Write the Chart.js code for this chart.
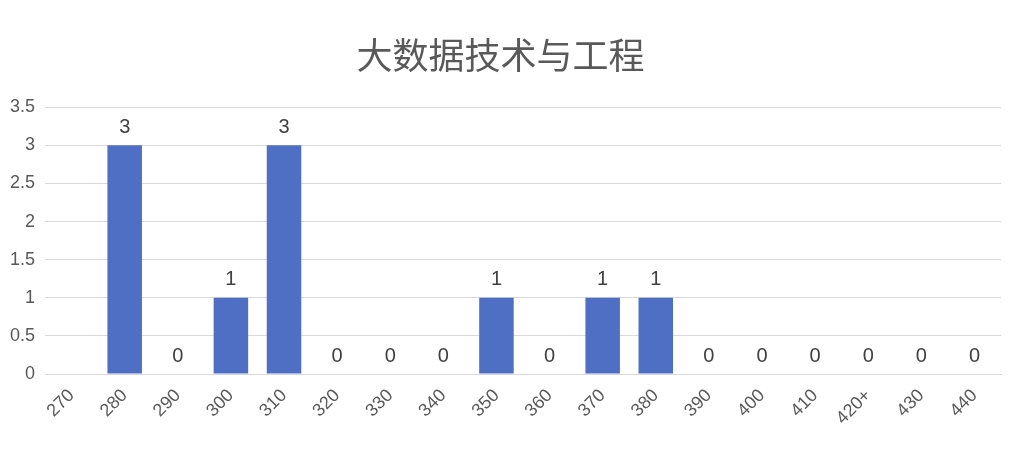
<!DOCTYPE html>
<html>
<head>
<meta charset="utf-8">
<script src="https://cdn.jsdelivr.net/npm/chart.js@4"></script>
<style>
  html, body { margin: 0; padding: 0; background: #fff; }
  #wrap { width: 1013px; height: 452px; }
</style>
</head>
<body>
<div id="wrap"><canvas id="c"></canvas></div>
<script>
const categories = ["270","280","290","300","310","320","330","340","350","360","370","380","390","400","410","420+","430","440"];
const counts = [null,3,0,1,3,0,0,0,1,0,1,1,0,0,0,0,0,0];
const yTicks = [0,0.5,1,1.5,2,2.5,3,3.5];

// 柱顶数值标签
const valueLabels = {
  id: "valueLabels",
  afterDatasetsDraw(chart) {
    const ctx = chart.ctx;
    const meta = chart.getDatasetMeta(0);
    ctx.save();
    ctx.font = "20px 'Liberation Sans', Arial, sans-serif";
    ctx.fillStyle = "#404040";
    ctx.textAlign = "center";
    ctx.textBaseline = "bottom";
    meta.data.forEach((bar, i) => {
      if (counts[i] === null) return;
      ctx.fillText(String(counts[i]), bar.x, bar.y - 8);
    });
    ctx.restore();
  }
};

new Chart(document.getElementById("c"), {
  type: "bar",
  data: {
    labels: categories,
    datasets: [{
      data: counts,
      backgroundColor: "#4f6fc4",
      barPercentage: 0.65,
      categoryPercentage: 1
    }]
  },
  options: {
    responsive: true,
    maintainAspectRatio: false,
    animation: false,
    layout: { padding: { left: 0, right: 12, top: 22, bottom: 20 } },
    plugins: {
      legend: { display: false },
      tooltip: { enabled: false },
      title: {
        display: true,
        text: "大数据技术与工程",
        color: "#595959",
        font: { size: 36, family: "'Noto Sans CJK SC', sans-serif", weight: "normal" },
        padding: { top: 12, bottom: 30 }
      }
    },
    scales: {
      x: {
        grid: { display: false },
        border: { color: "#d9d9d9" },
        ticks: {
          color: "#595959",
          font: { size: 18, family: "'Liberation Sans', Arial, sans-serif" },
          maxRotation: 45, minRotation: 45, autoSkip: false
        }
      },
      y: {
        min: 0, max: 3.5,
        afterBuildTicks(axis) { axis.ticks = yTicks.map(v => ({ value: v })); },
        grid: { color: "#d9d9d9", drawTicks: false },
        border: { display: false },
        ticks: {
          color: "#595959",
          padding: 10,
          callback: v => String(v),
          font: { size: 18, family: "'Liberation Sans', Arial, sans-serif" }
        }
      }
    }
  },
  plugins: [valueLabels]
});
</script>
</body>
</html>
